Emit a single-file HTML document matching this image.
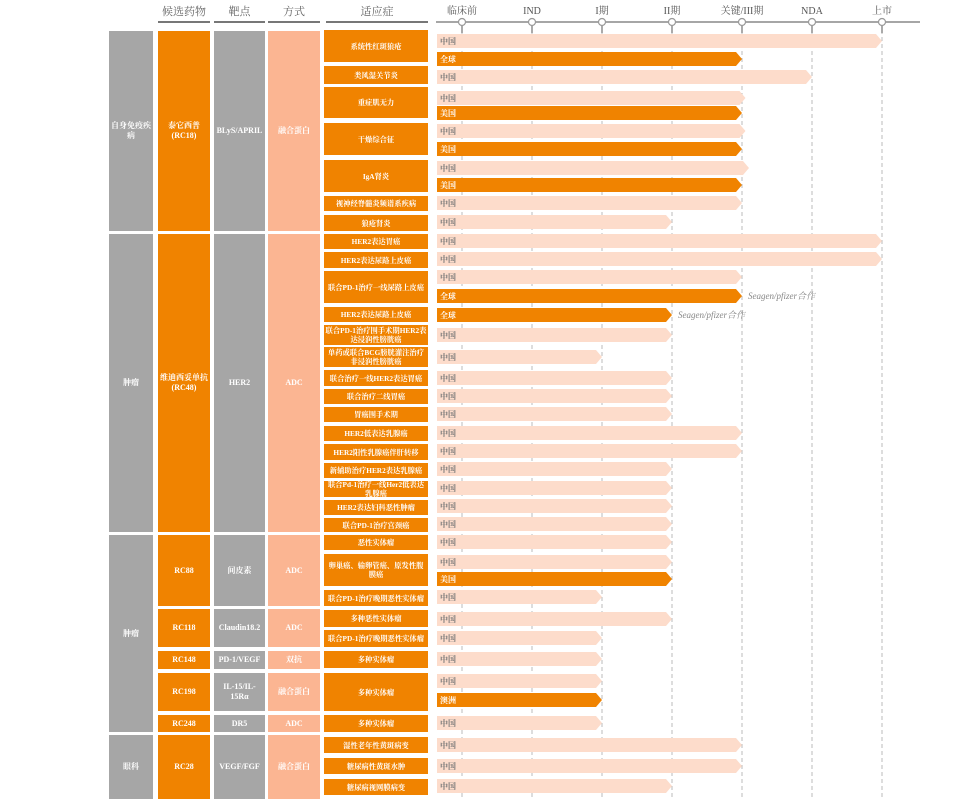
<!DOCTYPE html>
<html><head><meta charset="utf-8">
<style>
body{margin:0;background:#fff;}
#root{position:relative;width:976px;height:799px;overflow:hidden;font-family:"Liberation Serif","Noto Serif CJK SC",serif;}
.box{position:absolute;display:flex;align-items:center;justify-content:center;text-align:center;color:#fff;font-size:8px;line-height:10px;font-weight:bold;box-sizing:border-box;padding:0 1px;}
.ind{font-size:7.3px;line-height:9px;}
.hdr{position:absolute;top:3px;font-size:11px;color:#666;text-align:center;}
.ul{position:absolute;top:21px;height:1.5px;background:#777;}
</style></head><body>
<div id="root">
<svg id="svg" width="976" height="799" style="position:absolute;left:0;top:0"></svg>
</div>
<script>
const stages=["临床前","IND","I期","II期","关键/III期","NDA","上市"];
const indications=["系统性红斑狼疮","类风湿关节炎","重症肌无力","干燥综合征","IgA肾炎","视神经脊髓炎频谱系疾病","狼疮肾炎",
"HER2表达胃癌","HER2表达尿路上皮癌","联合PD-1治疗一线尿路上皮癌","HER2表达尿路上皮癌","联合PD-1治疗围手术期HER2表达浸润性膀胱癌","单药或联合BCG膀胱灌注治疗非浸润性膀胱癌","联合治疗一线HER2表达胃癌","联合治疗二线胃癌","胃癌围手术期","HER2低表达乳腺癌","HER2阳性乳腺癌伴肝转移","新辅助治疗HER2表达乳腺癌","联合Pd-1治疗一线Her2低表达乳腺癌","HER2表达妇科恶性肿瘤","联合PD-1治疗宫颈癌",
"恶性实体瘤","卵巢癌、输卵管癌、原发性腹膜癌","联合PD-1治疗晚期恶性实体瘤","多种恶性实体瘤","联合PD-1治疗晚期恶性实体瘤","多种实体瘤","多种实体瘤","多种实体瘤",
"湿性老年性黄斑病变","糖尿病性黄斑水肿","糖尿病视网膜病变"];
const barRegions=["中国","全球","中国","中国","美国","中国","美国","中国","美国","中国",
"中国","中国","中国","中国","全球","全球","中国","中国","中国","中国",
"中国","中国","中国","中国","中国","中国","中国","中国","中国","美国",
"中国","中国","中国","中国","中国","澳洲","中国","中国","中国","中国"];
const barStages=[6,4,5,4.05,4,4.05,4,4.1,4,4,
3,6,6,4,4,3,3,2,3,3,
3,4,4,3,3,3,3,3,3,3,
2,3,2,2,2,2,2,4,4,3];
const notes=[null,null,null,null,null,null,null,null,null,null,
null,null,null,null,"Seagen/pfizer合作","Seagen/pfizer合作",null,null,null,null,
null,null,null,null,null,null,null,null,null,null,
null,null,null,null,null,null,null,null,null,null];
const categories=["自身免疫疾病","肿瘤","肿瘤","眼科"];
const drugs=["泰它西普<br>(RC18)","维迪西妥单抗<br>(RC48)","RC88","RC118","RC148","RC198","RC248","RC28"];
const targets=["BLyS/APRIL","HER2","间皮素","Claudin18.2","PD-1/VEGF","IL-15/IL-<br>15Rα","DR5","VEGF/FGF"];
const methods=["融合蛋白","ADC","ADC","ADC","双抗","融合蛋白","ADC","融合蛋白"];
// layout (pixels)
const indBox=[[30,62],[66,84],[87,118],[123,155],[160,192],[196,211],[215,231],[234,249],[252,268],[271,303],[307,322],[325,345],[347,367],[370,386],[389,404],[407,422],[426,441],[444,460],[463,478],[481,497],[500,515],[518,532],[535,550],[554,586],[590,606],[610,627],[630,647],[651,668],[673,711],[715,732],[737,753],[758,774],[779,795]];
const barY=[41,59,77,98,113,131,149,168,185,203,222,241,259,277,296,315,335,357,378,396,414,433,451,469,488,506,524,542,562,579,597,619,638,659,681,700,723,745,766,786];
const catBox=[[31,231],[234,532],[535,732],[735,799]];
const drugBox=[[31,231],[234,532],[535,606],[609,647],[651,669],[673,711],[715,732],[735,799]];
const root=document.getElementById('root');
const svg=document.getElementById('svg');
const NS="http://www.w3.org/2000/svg";
const x0=462,dx=70;
function sx(s){return x0+s*dx;}
function box(x,w,t,b,bg,html,name,cls){
 const d=document.createElement('div');d.className='box'+(cls?' '+cls:'');
 
 
 d.style.cssText=`left:${x}px;width:${w}px;top:${t}px;height:${b-t}px;background:${bg}`;
 d.innerHTML=html;root.appendChild(d);}
function el(tag,attrs,name){const e=document.createElementNS(NS,tag);for(const k in attrs)e.setAttribute(k,attrs[k]);
 
 
 svg.appendChild(e);return e;}
[["候选药物",158,52],["靶点",214,51],["方式",268,52],["适应症",326,102]].forEach((h,i)=>{
 const d=document.createElement('div');d.className='hdr';d.style.left=h[1]+'px';d.style.width=h[2]+'px';d.textContent=h[0];
 
 
 root.appendChild(d);
 const u=document.createElement('div');u.className='ul';u.style.left=h[1]+'px';u.style.width=h[2]+'px';
 
 
 root.appendChild(u);});
el('line',{x1:436,y1:22,x2:920,y2:22,stroke:'#888','stroke-width':1.5},'axis-line');
stages.forEach((s,i)=>{
 const x=sx(i);
 el('line',{x1:x,y1:30,x2:x,y2:799,stroke:'#bbb','stroke-width':1,'stroke-dasharray':'4,3'},'stage-gridline');
 el('line',{x1:x,y1:26,x2:x,y2:33,stroke:'#aaa','stroke-width':2},'stage-tick');
 el('circle',{cx:x,cy:22,r:3.5,fill:'#fff',stroke:'#999','stroke-width':1.2},'stage-marker');
 const t=el('text',{x:x,y:14,'text-anchor':'middle','font-size':10,fill:'#555','font-family':'"Liberation Serif","Noto Serif CJK SC",serif'},'stage-label');t.textContent=s;});
categories.forEach((c,i)=>box(109,44,catBox[i][0],catBox[i][1],'#a6a6a6',c,'category-cell'));
drugs.forEach((c,i)=>{const b=drugBox[i];box(158,52,b[0],b[1],'#f08300',c,'drug-cell');box(214,51,b[0],b[1],'#a6a6a6',targets[i],'target-cell');box(268,52,b[0],b[1],'#fbb592',methods[i],'method-cell');});
indications.forEach((c,i)=>box(324,104,indBox[i][0],indBox[i][1],'#f08300',c,'indication-cell','ind'));
barStages.forEach((v,i)=>{
 const dark=barRegions[i]!=="中国";const y=barY[i],h=14,xs=437,xe=sx(v);
 el('polygon',{points:`${xs},${y-h/2} ${xe-6},${y-h/2} ${xe},${y} ${xe-6},${y+h/2} ${xs},${y+h/2}`,fill:dark?'#f08300':'#fddccb'},'progress-bar');
 const t=el('text',{x:xs+3,y:y+3,'font-size':8,'font-weight':'bold',fill:dark?'#fff':'#777','font-family':'"Liberation Serif","Noto Serif CJK SC",serif'},'bar-region-label');t.textContent=barRegions[i];
 if(notes[i]){const n=el('text',{x:xe+6,y:y+3,'font-size':9,'font-style':'italic',fill:'#888','font-family':'"Liberation Serif","Noto Serif CJK SC",serif'},'partner-note');n.textContent=notes[i];}
});
</script>
</body></html>
